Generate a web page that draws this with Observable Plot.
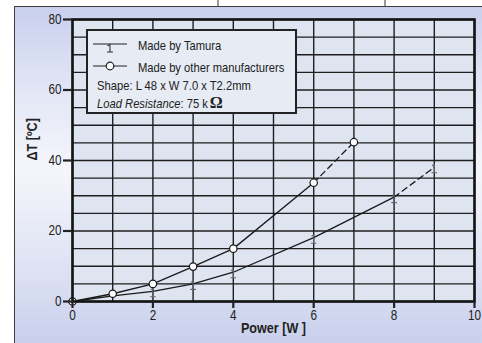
<!DOCTYPE html>
<html><head><meta charset="utf-8">
<script src="https://cdn.jsdelivr.net/npm/d3@7"></script>
<script src="https://cdn.jsdelivr.net/npm/@observablehq/plot@0.6"></script>
<style>
body{margin:0;width:482px;height:343px;overflow:hidden;background:#fff;position:relative;font-family:"Liberation Sans",Arial,sans-serif;}
#panel{position:absolute;left:14px;top:6px;width:480px;height:350px;border:1.5px solid #3c3c3c;box-sizing:border-box;
 background:linear-gradient(to bottom,#c9d0ed 0%,#e3e7f6 25%,#f5f6fb 47%,#e2e6f5 70%,#c6cdeb 100%);}
.art{position:absolute;top:0;width:2px;height:6px;background:#9a9a9a;}
#chart{position:absolute;left:0;top:0;}
#legend{position:absolute;left:86px;top:29px;width:211px;height:85px;box-sizing:border-box;border:2px solid #222;background:#e6ebf4;}
#legend .t{position:absolute;font-size:13.5px;color:#222;white-space:nowrap;line-height:1;transform:scaleX(0.83);transform-origin:0 50%;}
#legend svg{position:absolute;}
</style></head><body>
<div id="panel"></div>
<div class="art" style="left:217px"></div>
<div class="art" style="left:384px"></div>
<div id="chart"></div>
<div id="legend">
  <svg style="left:5px;top:6px" width="36" height="18">
    <line x1="0" y1="7" x2="34" y2="7" stroke="#222" stroke-width="1.2"/>
    <path d="M14.5,9 L17,7.5 L17,15 M14,15 L20,15" fill="none" stroke="#333" stroke-width="1.1"/>
  </svg>
  <div class="t" style="left:50px;top:8px">Made by Tamura</div>
  <svg style="left:5px;top:28px" width="36" height="14">
    <line x1="0" y1="7" x2="34" y2="7" stroke="#222" stroke-width="1.2"/>
    <circle cx="17" cy="7" r="3.8" fill="#fff" stroke="#222" stroke-width="1.2"/>
  </svg>
  <div class="t" style="left:50px;top:30px">Made by other manufacturers</div>
  <div class="t" style="left:9px;top:48px">Shape: L 48 x W 7.0 x T2.2mm</div>
  <div class="t" style="left:9px;top:63px"><i>Load Resistance</i>: 75 k <span style="font-family:'Liberation Serif';font-size:17px;font-weight:bold;display:inline-block;transform:scaleX(1.15)">Ω</span></div>
</div>
<script>
// data
const tamuraPower = [0, 1, 2, 3, 4, 6, 8, 9];
const tamuraDT    = [0, 1.6, 2.9, 5.0, 8.3, 18.1, 29.6, 38.1];
const otherPower  = [0, 1, 2, 3, 4, 6, 7];
const otherDT     = [0, 2.2, 5.0, 9.9, 15.0, 33.7, 45.2];
const xTicks = [0, 2, 4, 6, 8, 10];
const yTicks = [0, 20, 40, 60, 80];
const xGrid = d3.range(0, 11, 1);
const yGrid = d3.range(0, 81, 5);

const tamura = tamuraPower.map((x, i) => ({x, y: tamuraDT[i]}));
const other = otherPower.map((x, i) => ({x, y: otherDT[i]}));
const tamSolid = tamura.slice(0, tamura.length - 1);
const tamDash = tamura.slice(tamura.length - 2);
const othSolid = other.slice(0, other.length - 1);
const othDash = other.slice(other.length - 2);

// "1"-shaped marker used for the Tamura series
const oneSymbol = {
  draw(ctx) {
    ctx.moveTo(-2.2, -2.5); ctx.lineTo(0, -4); ctx.lineTo(0, 4.5);
    ctx.moveTo(-2.8, 4.5); ctx.lineTo(2.8, 4.5);
  }
};

const chart = Plot.plot({
  width: 482, height: 343,
  marginLeft: 72, marginRight: 8, marginTop: 19, marginBottom: 42,
  x: {domain: [0, 10]},
  y: {domain: [0, 80]},
  style: {fontFamily: '"Liberation Sans",Arial,sans-serif', background: "transparent", overflow: "visible", color: "#222"},
  marks: [
    Plot.frame({fill: "#dfe4f1"}),
    Plot.ruleX(xGrid, {stroke: "#1f1f1f", strokeWidth: 1.4}),
    Plot.ruleY(yGrid, {stroke: "#1f1f1f", strokeWidth: 1.4}),
    Plot.line(tamSolid, {x: "x", y: "y", stroke: "#1a1a1a", strokeWidth: 1.3}),
    Plot.line(tamDash, {x: "x", y: "y", stroke: "#1a1a1a", strokeWidth: 1.3, strokeDasharray: "6,4"}),
    Plot.line(othSolid, {x: "x", y: "y", stroke: "#1a1a1a", strokeWidth: 1.3}),
    Plot.line(othDash, {x: "x", y: "y", stroke: "#1a1a1a", strokeWidth: 1.3, strokeDasharray: "6,4"}),
    Plot.dot(tamura.slice(2), {x: "x", y: "y", symbol: oneSymbol, fill: "none", stroke: "#666", strokeWidth: 1.1, dy: 1}),
    Plot.dot(other, {x: "x", y: "y", r: 3.7, fill: "#fff", stroke: "#1a1a1a", strokeWidth: 1.2}),
    Plot.frame({stroke: "#151515", strokeWidth: 2.6}),
    Plot.axisY(yTicks, {tickSize: 9, tickPadding: 2, strokeWidth: 2.2, fontSize: 14, label: null}),
    Plot.axisX(xTicks, {tickSize: 7, tickPadding: 2, strokeWidth: 2.2, fontSize: 14, label: null}),
    Plot.text(["Power [W ]"], {frameAnchor: "bottom", dy: 31, fontSize: 15, fontWeight: "bold", fill: "#222"}),
    Plot.text(["ΔT [ºC]"], {frameAnchor: "left", dx: -40, rotate: -90, fontSize: 15, fontWeight: "bold", fill: "#222"})
  ]
});
// condense sans text horizontally (narrow typeface look)
chart.querySelectorAll("text").forEach(t => {
  const x = +(t.getAttribute("x") || 0);
  const tr = t.getAttribute("transform") || "";
  t.setAttribute("transform", `${tr} translate(${x},0) scale(0.84,1) translate(${-x},0)`);
});
document.getElementById("chart").appendChild(chart);
</script>
</body></html>
